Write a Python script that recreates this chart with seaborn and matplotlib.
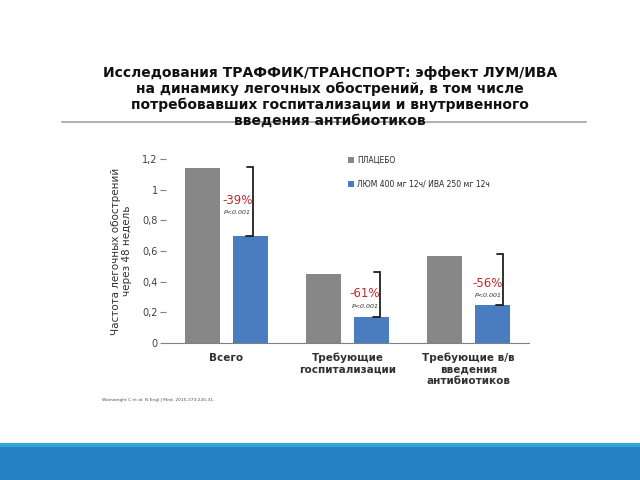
import matplotlib
matplotlib.use("Agg")
import matplotlib.pyplot as plt
import seaborn as sns
import pandas as pd
from matplotlib.patches import Rectangle, Patch
from matplotlib.lines import Line2D

# ---- data ----
categories = ["Всего", "Требующие\nгоспитализации", "Требующие в/в\nвведения\nантибиотиков"]
groups = ["ПЛАЦЕБО", "ЛЮМ 400 мг 12ч/ ИВА 250 мг 12ч"]
placebo = [1.14, 0.45, 0.57]
treatment = [0.70, 0.17, 0.25]
reductions = ["-39%", "-61%", "-56%"]
pvalues = ["P<0.001", "P<0.001", "P<0.001"]
yticks = [0, 0.2, 0.4, 0.6, 0.8, 1.0, 1.2]
ytick_labels = ["0", "0,2", "0,4", "0,6", "0,8", "1", "1,2"]
title = ("Исследования ТРАФФИК/ТРАНСПОРТ: эффект ЛУМ/ИВА\n"
         "на динамику легочных обострений, в том числе\n"
         "потребовавших госпитализации и внутривенного\n"
         "введения антибиотиков")
ylabel = "Частота легочных обострений\nчерез 48 недель"
footnote = "Wainwright C et al. N Engl J Med. 2015;373:220-31."

# annotation layout (offsets from category centre)
bracket_dx = [0.22, 0.27, 0.285]
label_dx = [0.09, 0.145, 0.16]
label_y = [0.93, 0.32, 0.39]

df = pd.DataFrame({
    "cat": categories * 2,
    "grp": [groups[0]] * 3 + [groups[1]] * 3,
    "val": placebo + treatment,
})

colors = ["#878787", "#4A7DBF"]

sns.set_theme(style="white")
plt.rcParams["font.family"] = ["DejaVu Sans"]

fig = plt.figure(figsize=(6.4, 4.8), dpi=100)
ax = fig.add_axes([166 / 640, 1 - 343 / 480, 363 / 640, 184 / 480])

sns.barplot(data=df, x="cat", y="val", hue="grp", order=categories,
            hue_order=groups, palette=colors, width=0.8, gap=0.275,
            saturation=1, ax=ax, legend=False, linewidth=0)

ax.set_xlim(-0.5, 2.5)
ax.set_ylim(0, 1.2)
ax.set_yticks(yticks)
ax.set_yticklabels(ytick_labels, fontsize=7, color="#404040")
ax.set_xticks(range(3))
ax.set_xticklabels(categories, fontsize=7.5, fontweight="bold", color="#303030")
ax.tick_params(axis="x", length=0, pad=7)
ax.set_xticks([-0.5, 0.5, 1.5, 2.5], minor=True)
ax.tick_params(axis="x", which="minor", length=4, color="#808080", width=0.8, direction="out")
ax.tick_params(axis="y", length=4, color="#808080", width=0.8, direction="out", left=True, pad=2)
ax.set_xlabel("")
ax.set_ylabel(ylabel, fontsize=7.5, color="#303030", labelpad=7)
for s in ["top", "right", "left"]:
    ax.spines[s].set_visible(False)
ax.spines["bottom"].set_color("#808080")
ax.spines["bottom"].set_linewidth(0.8)

# brackets and labels
for i in range(3):
    xb = i + bracket_dx[i]
    top, bot = placebo[i] + 0.01, treatment[i]
    ax.plot([xb - 0.05, xb, xb, xb - 0.06], [top, top, bot, bot],
            color="#202020", lw=1.3, solid_joinstyle="miter", clip_on=False)
    ax.text(i + label_dx[i], label_y[i], reductions[i], ha="center", va="center",
            fontsize=8.5, color="#C0282D")
    ax.text(i + label_dx[i], label_y[i] - 0.08, pvalues[i], ha="center", va="center",
            fontsize=4.5, style="italic", color="#303030")

# legend
handles = [Patch(facecolor=c, edgecolor="none") for c in colors]
ax.legend(handles, groups, loc="upper left", bbox_to_anchor=(0.5, 1.02),
          frameon=False, fontsize=5.5, handlelength=0.8, handleheight=0.8,
          handletextpad=0.5, labelspacing=2.0, borderpad=0, borderaxespad=0)

# title
fig.text(330 / 640, 1 - 66 / 480, title, ha="center", va="top", fontsize=10,
         fontweight="bold", color="#111111", linespacing=1.15, zorder=3)
fig.add_artist(Line2D([62 / 640, 586 / 640], [1 - 121.5 / 480] * 2,
                      color="#A8A8A8", lw=1.3, zorder=1))

# footnote
fig.text(102 / 640, 1 - 400 / 480, footnote, ha="left", va="center",
         fontsize=3.2, color="#505050")

# bottom band
fig.add_artist(Rectangle((0, 0), 1, 33 / 480, transform=fig.transFigure,
                         facecolor="#2581C4", edgecolor="none", zorder=0))
fig.add_artist(Rectangle((0, 33 / 480), 1, 4 / 480, transform=fig.transFigure,
                         facecolor="#2BA7DB", edgecolor="none", zorder=0))

fig.savefig("out.png", dpi=100)
